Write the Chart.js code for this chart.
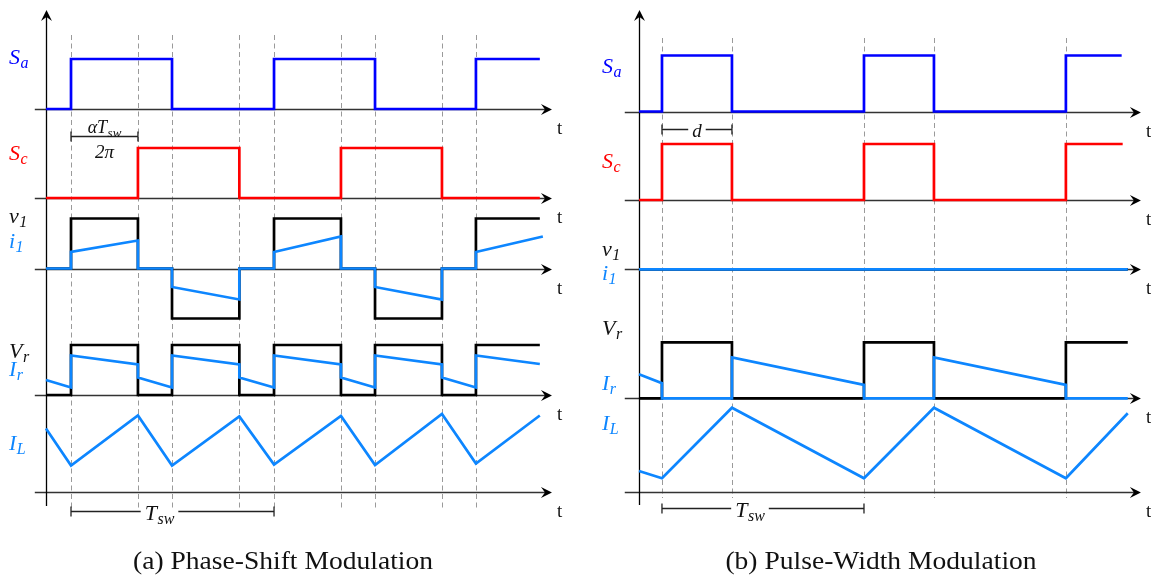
<!DOCTYPE html>
<html>
<head>
<meta charset="utf-8">
<script src="https://cdn.jsdelivr.net/npm/chart.js@4.4.1/dist/chart.umd.min.js"></script>
<style>
  html, body { margin: 0; padding: 0; background: #fff; overflow: hidden; width: 1151px; height: 579px; }
  .panel { position: absolute; top: 0; width: 575px; height: 579px; }
</style>
</head>
<body>
<div class="panel" style="left:0"><canvas id="ps" width="575" height="579"></canvas></div>
<div class="panel" style="left:593px"><canvas id="pw" width="575" height="579"></canvas></div>
<script>
// ---------- (a) phase-shift modulation: time in half-periods ----------
const psEdges = [0.247, 0.907, 1.243, 1.907, 2.249, 2.909, 3.245, 3.905, 4.24];
const psSaT = [0, 0.247, 1.243, 2.249, 3.245, 4.24, 4.87];
const psSaV = [0, 1, 0, 1, 0, 1, 1];
const psScT = [0, 0.907, 1.907, 2.909, 3.905, 4.87];
const psScV = [0, 1, 0, 1, 0, 0];
const psV1T = [0, 0.247, 0.907, 1.243, 1.907, 2.249, 2.909, 3.245, 3.905, 4.24, 4.87];
const psV1V = [0, 1, 0, -1, 0, 1, 0, -1, 0, 1, 1];
const psI1T = [0, 0.247, 0.247, 0.907, 0.907, 1.243, 1.243, 1.907, 1.907, 2.249, 2.249, 2.909, 2.909, 3.245, 3.245, 3.905, 3.905, 4.24, 4.24, 4.90];
const psI1V = [0, 0, 0.33, 0.56, 0, 0, -0.37, -0.62, 0, 0, 0.33, 0.64, 0, 0, -0.37, -0.62, 0, 0, 0.33, 0.64];
const psVrT = [0, 0.247, 0.907, 1.243, 1.907, 2.249, 2.909, 3.245, 3.905, 4.24, 4.87];
const psVrV = [0, 1, 0, 1, 0, 1, 0, 1, 0, 1, 1];
const psIrT = [0, 0.247, 0.247, 0.907, 0.907, 1.243, 1.243, 1.907, 1.907, 2.249, 2.249, 2.909, 2.909, 3.245, 3.245, 3.905, 3.905, 4.24, 4.24, 4.87];
const psIrV = [0.30, 0.15, 0.79, 0.61, 0.35, 0.15, 0.79, 0.61, 0.35, 0.15, 0.79, 0.61, 0.35, 0.15, 0.79, 0.61, 0.35, 0.15, 0.79, 0.62];
const psILT = [0, 0.247, 0.907, 1.243, 1.907, 2.249, 2.909, 3.245, 3.905, 4.24, 4.87];
const psILV = [1.27, 0.53, 1.53, 0.53, 1.51, 0.55, 1.52, 0.54, 1.56, 0.57, 1.53];

// ---------- (b) pulse-width modulation ----------
const pwEdges = [0.227, 0.917, 2.219, 2.909, 4.21];
const pwSaT = [0, 0.227, 0.917, 2.219, 2.909, 4.21, 4.76];
const pwSaV = [0, 1, 0, 1, 0, 1, 1];
const pwScT = [0, 0.227, 0.917, 2.219, 2.909, 4.21, 4.77];
const pwScV = [0, 1, 0, 1, 0, 1, 1];
const pwV1T = [0, 4.82];
const pwV1V = [0, 0];
const pwI1T = [0, 4.82];
const pwI1V = [0, 0];
const pwVrT = [0, 0.227, 0.917, 2.219, 2.909, 4.21, 4.82];
const pwVrV = [0, 1, 0, 1, 0, 1, 1];
const pwIrT = [0, 0.227, 0.227, 0.917, 0.917, 2.219, 2.219, 2.909, 2.909, 4.21, 4.21, 4.82];
const pwIrV = [0.43, 0.27, 0, 0, 0.73, 0.24, 0, 0, 0.73, 0.24, 0, 0];
const pwILT = [0, 0.227, 0.917, 2.219, 2.909, 4.21, 4.82];
const pwILV = [0.37, 0.24, 1.50, 0.24, 1.50, 0.24, 1.40];

const axisLabel = 't';
const captions = ['(a) Phase-Shift Modulation', '(b) Pulse-Width Modulation'];

// ---------- styling ----------
const BLUE = '#0000ff', RED = '#ff0000', CUR = '#0d86ff', INK = '#111111', AXIS = '#333333';
const SERIF = '"Liberation Serif", "DejaVu Serif", serif';

// Row layout: pixel bands of each trace row and its zero line, plus pixels per unit level.
const psLayout = { ppu: 50, bounds: [10, 128, 208, 330, 405, 505], baselines: [109, 198, 268.5, 395, 492] };
const pwLayout = { ppu: 56, bounds: [10, 128, 210, 330, 403, 505], baselines: [111.5, 200, 269.3, 398.3, 491.7] };

function rowScales(lay) {
  const s = { x: { type: 'linear', min: -0.325, max: 5.0, display: false } };
  lay.baselines.forEach((b, i) => {
    const top = lay.bounds[i], bot = lay.bounds[i + 1];
    s['r' + i] = {
      type: 'linear', position: 'left', stack: 'rows', stackWeight: bot - top, weight: 10 - i,
      min: (b - bot) / lay.ppu, max: (b - top) / lay.ppu, display: false
    };
  });
  return s;
}

function trace(ts, vs, row, color, stepped) {
  return {
    data: ts.map((t, i) => ({ x: t, y: vs[i] })),
    yAxisID: 'r' + row, borderColor: color, borderWidth: 2.7,
    pointRadius: 0, fill: false, tension: 0, stepped: !!stepped,
    borderJoinStyle: 'miter', borderCapStyle: 'butt'
  };
}

function seg(ctx, x0, y0, x1, y1) { ctx.beginPath(); ctx.moveTo(x0, y0); ctx.lineTo(x1, y1); ctx.stroke(); }

function arrowHead(ctx, x, y, ang) {
  ctx.save();
  ctx.translate(x, y); ctx.rotate(ang);
  ctx.fillStyle = '#000';
  ctx.beginPath();
  ctx.moveTo(0, 0); ctx.lineTo(-11, -5.5); ctx.lineTo(-7, 0); ctx.lineTo(-11, 5.5); ctx.closePath();
  ctx.fill();
  ctx.restore();
}

function symbol(ctx, x, y, main, sub, color, size, subSize) {
  ctx.fillStyle = color;
  ctx.textAlign = 'left'; ctx.textBaseline = 'alphabetic';
  ctx.font = 'italic ' + size + 'px ' + SERIF;
  ctx.fillText(main, x, y);
  const w = ctx.measureText(main).width;
  ctx.font = 'italic ' + subSize + 'px ' + SERIF;
  ctx.fillText(sub, x + w + 0.5, y + 4);
  return w + ctx.measureText(sub).width;
}

function symbolWidth(ctx, main, sub, size, subSize) {
  ctx.font = 'italic ' + size + 'px ' + SERIF;
  const w = ctx.measureText(main).width;
  ctx.font = 'italic ' + subSize + 'px ' + SERIF;
  return w + ctx.measureText(sub).width + 0.5;
}

function diagramPlugin(d) {
  return {
    id: 'timingDiagram',
    beforeDatasetsDraw(chart) {
      const ctx = chart.ctx, xs = chart.scales.x;
      ctx.save();
      // switching instants
      ctx.strokeStyle = '#9a9a9a'; ctx.lineWidth = 1; ctx.setLineDash([5, 3.5]);
      d.edges.forEach(t => {
        const x = Math.round(xs.getPixelForValue(t)) + 0.5;
        seg(ctx, x, d.dashTop, x, d.dashBottom);
      });
      ctx.setLineDash([]);
      // time axes of each row
      const x0 = xs.getPixelForValue(d.axisStart), x1 = xs.getPixelForValue(d.axisEnd);
      for (let i = 0; i < 5; i++) {
        const y = Math.round(chart.scales['r' + i].getPixelForValue(0)) + 0.5;
        ctx.strokeStyle = AXIS; ctx.lineWidth = 1.3;
        seg(ctx, x0, y, x1 - 6, y);
        arrowHead(ctx, x1, y, 0);
        ctx.fillStyle = INK; ctx.font = '19px ' + SERIF;
        ctx.textAlign = 'left'; ctx.textBaseline = 'middle';
        ctx.fillText(axisLabel, x1 + 5, y + 20);
      }
      // vertical axis
      const xa = Math.round(xs.getPixelForValue(0)) + 0.5;
      ctx.strokeStyle = '#000'; ctx.lineWidth = 1.3;
      seg(ctx, xa, chart.chartArea.top + 6, xa, d.axisBottom);
      arrowHead(ctx, xa, chart.chartArea.top, -Math.PI / 2);
      ctx.restore();
    },
    afterDraw(chart) {
      const ctx = chart.ctx, xs = chart.scales.x;
      const xa = xs.getPixelForValue(0);
      ctx.save();
      // row names
      d.labels.forEach(l => {
        const y = chart.scales['r' + l.row].getPixelForValue(l.v);
        symbol(ctx, xa - 37, y, l.main, l.sub, l.color, 22, 16);
      });
      // interval markers
      d.brackets.forEach(b => {
        const bx0 = xs.getPixelForValue(b.t0), bx1 = xs.getPixelForValue(b.t1);
        const y = Math.round(chart.scales['r' + b.row].getPixelForValue(b.v)) + 0.5;
        ctx.strokeStyle = '#222'; ctx.lineWidth = 1.3;
        seg(ctx, bx0, y, bx1, y);
        seg(ctx, bx0, y - 5, bx0, y + 5);
        seg(ctx, bx1, y - 5, bx1, y + 5);
        const cx = (bx0 + bx1) / 2;
        if (b.kind === 'frac') {
          const w = symbolWidth(ctx, 'αT', 'sw', 18, 13);
          ctx.fillStyle = '#fff'; ctx.fillRect(cx - w / 2 - 3, y - 17, w + 6, 15);
          symbol(ctx, cx - w / 2, y - 4, 'αT', 'sw', INK, 18, 13);
          ctx.font = 'italic 19px ' + SERIF; ctx.textAlign = 'center'; ctx.textBaseline = 'alphabetic';
          ctx.fillStyle = INK; ctx.fillText('2π', cx, y + 21);
        } else if (b.kind === 'd') {
          ctx.font = 'italic 19px ' + SERIF;
          const w = ctx.measureText('d').width;
          ctx.fillStyle = '#fff'; ctx.fillRect(cx - w / 2 - 4, y - 3, w + 8, 6);
          ctx.fillStyle = INK; ctx.textAlign = 'center'; ctx.textBaseline = 'alphabetic';
          ctx.fillText('d', cx, y + 7);
        } else {
          const w = symbolWidth(ctx, 'T', 'sw', 22, 16);
          const lx = cx - 13 - w / 2;
          ctx.fillStyle = '#fff'; ctx.fillRect(lx - 4, y - 3, w + 8, 6);
          symbol(ctx, lx, y + 8, 'T', 'sw', INK, 22, 16);
        }
      });
      // panel caption
      const ca = chart.chartArea;
      ctx.translate((ca.left + ca.right) / 2 + d.captionDx, 569);
      ctx.scale(1.06, 1);
      ctx.fillStyle = INK; ctx.font = '26px ' + SERIF;
      ctx.textAlign = 'center'; ctx.textBaseline = 'alphabetic';
      ctx.fillText(d.caption, 0, 0);
      ctx.restore();
    }
  };
}

function labelSet(v) {
  return [
    { row: 0, v: v[0], main: 'S', sub: 'a', color: BLUE },
    { row: 1, v: v[1], main: 'S', sub: 'c', color: RED },
    { row: 2, v: v[2], main: 'v', sub: '1', color: INK },
    { row: 2, v: v[3], main: 'i', sub: '1', color: CUR },
    { row: 3, v: v[4], main: 'V', sub: 'r', color: INK },
    { row: 3, v: v[5], main: 'I', sub: 'r', color: CUR },
    { row: 4, v: v[6], main: 'I', sub: 'L', color: CUR }
  ];
}

function makeChart(id, lay, datasets, decor) {
  return new Chart(document.getElementById(id), {
    type: 'line',
    data: { datasets },
    options: {
      responsive: false, animation: false, devicePixelRatio: 1,
      layout: { padding: { left: 13, right: 22, top: 10, bottom: 74 } },
      scales: rowScales(lay),
      plugins: { legend: { display: false }, tooltip: { enabled: false }, title: { display: false } },
      events: []
    },
    plugins: [diagramPlugin(decor)]
  });
}

// current traces listed first so they are painted over the voltage traces
makeChart('ps', psLayout, [
  trace(psI1T, psI1V, 2, CUR),
  trace(psIrT, psIrV, 3, CUR),
  trace(psILT, psILV, 4, CUR),
  trace(psSaT, psSaV, 0, BLUE, true),
  trace(psScT, psScV, 1, RED, true),
  trace(psV1T, psV1V, 2, '#000', true),
  trace(psVrT, psVrV, 3, '#000', true)
], {
  edges: psEdges, axisStart: -0.11, axisEnd: 4.99, axisBottom: 506, dashTop: 35, dashBottom: 508,
  labels: labelSet([0.9, 0.76, 0.91, 0.41, 0.74, 0.38, 0.84]),
  brackets: [
    { kind: 'frac', row: 1, v: 1.24, t0: psEdges[0], t1: psEdges[1] },
    { kind: 'tsw', row: 4, v: -0.38, t0: psEdges[0], t1: psEdges[4] }
  ],
  caption: captions[0], captionDx: 0
});

makeChart('pw', pwLayout, [
  trace(pwI1T, pwI1V, 2, CUR),
  trace(pwIrT, pwIrV, 3, CUR),
  trace(pwILT, pwILV, 4, CUR),
  trace(pwSaT, pwSaV, 0, BLUE, true),
  trace(pwScT, pwScV, 1, RED, true),
  trace(pwV1T, pwV1V, 2, '#000', true),
  trace(pwVrT, pwVrV, 3, '#000', true)
], {
  edges: pwEdges, axisStart: -0.14, axisEnd: 4.95, axisBottom: 505, dashTop: 38, dashBottom: 498,
  labels: labelSet([0.69, 0.57, 0.24, -0.19, 1.13, 0.15, 1.10]),
  brackets: [
    { kind: 'd', row: 1, v: 1.26, t0: pwEdges[0], t1: pwEdges[1] },
    { kind: 'tsw', row: 4, v: -0.29, t0: pwEdges[0], t1: pwEdges[2] }
  ],
  caption: captions[1], captionDx: 5
});
</script>
</body>
</html>
